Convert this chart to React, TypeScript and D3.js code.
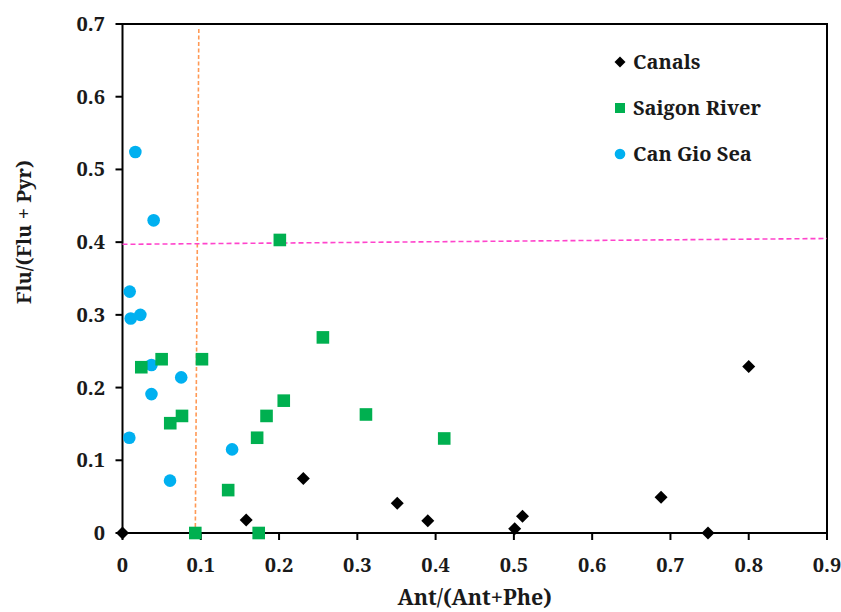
import React from "react";
import * as d3 from "d3";

const xTicks = [0, 0.1, 0.2, 0.3, 0.4, 0.5, 0.6, 0.7, 0.8, 0.9];
const yTicks = [0, 0.1, 0.2, 0.3, 0.4, 0.5, 0.6, 0.7];

const canalsX = [0, 0.158, 0.231, 0.351, 0.39, 0.501, 0.511, 0.688, 0.748, 0.8];
const canalsY = [0, 0.018, 0.075, 0.041, 0.017, 0.006, 0.023, 0.049, 0, 0.229];

const saigonX = [0.201, 0.256, 0.206, 0.311, 0.411, 0.024, 0.05, 0.1015, 0.061, 0.076, 0.184, 0.172, 0.135, 0.093, 0.174];
const saigonY = [0.403, 0.269, 0.182, 0.163, 0.13, 0.228, 0.239, 0.239, 0.151, 0.161, 0.161, 0.131, 0.059, 0, 0];

const canGioX = [0.0164, 0.0398, 0.0092, 0.0105, 0.0228, 0.037, 0.037, 0.075, 0.0087, 0.14, 0.0607];
const canGioY = [0.524, 0.43, 0.332, 0.295, 0.3, 0.231, 0.191, 0.214, 0.131, 0.115, 0.072];

// reference threshold lines (endpoints in data units)
const antLineX = [0.0975, 0.093];
const antLineY = [0.693, 0];
const fluLineX = [0, 0.9];
const fluLineY = [0.397, 0.405];

const seriesNames = ["Canals", "Saigon River", "Can Gio Sea"];
const seriesColors = ["#000000", "#00B050", "#00B0F0"];

const textStyle: React.CSSProperties = {
  fontFamily: '"Noto Serif", "Tinos", "Times New Roman", "Liberation Serif", "DejaVu Serif", "FreeSerif", Georgia, serif',
  fontWeight: 700,
};

export default function App() {
  const W = 841, H = 612;
  const x = d3.scaleLinear().domain([0, 0.9]).range([122.5, 827]);
  const y = d3.scaleLinear().domain([0, 0.7]).range([533, 24]);

  const diamond = (cx: number, cy: number, r: number) =>
    `M${cx},${cy - r}L${cx + r},${cy}L${cx},${cy + r}L${cx - r},${cy}Z`;

  const legendRows = [62, 108, 154];

  return (
    <svg width={W} height={H} style={{ position: "absolute", left: 0, top: 0, background: "#fff" }}>
      <rect x={0} y={0} width={W} height={H} fill="#fff" />
      <rect x={x(0)} y={y(0.7)} width={x(0.9) - x(0)} height={y(0) - y(0.7)} fill="none" stroke="#000" strokeWidth={2} />
      {yTicks.map((t) => (
        <g key={"y" + t}>
          <line x1={x(0) - 7} x2={x(0)} y1={y(t)} y2={y(t)} stroke="#000" strokeWidth={2} />
          <text x={105} y={y(t) + 7} textAnchor="end" style={{ ...textStyle, fontSize: 20 }} fill="#1a1a1a">
            {String(t)}
          </text>
        </g>
      ))}
      {xTicks.map((t) => (
        <g key={"x" + t}>
          <line x1={x(t)} x2={x(t)} y1={y(0)} y2={y(0) + 7} stroke="#000" strokeWidth={2} />
          <text x={x(t)} y={572} textAnchor="middle" style={{ ...textStyle, fontSize: 20 }} fill="#1a1a1a">
            {String(t)}
          </text>
        </g>
      ))}
      <line x1={x(antLineX[0])} y1={y(antLineY[0])} x2={x(antLineX[1])} y2={y(antLineY[1])} stroke="#FF9955" strokeWidth={1.6} strokeDasharray="4 2.5" />
      <line x1={x(fluLineX[0])} y1={y(fluLineY[0])} x2={x(fluLineX[1])} y2={y(fluLineY[1])} stroke="#FF44CC" strokeWidth={1.6} strokeDasharray="5 3" />
      {canGioX.map((v, i) => (
        <circle key={"c" + i} cx={x(v)} cy={y(canGioY[i])} r={6.3} fill={seriesColors[2]} />
      ))}
      {saigonX.map((v, i) => (
        <rect key={"s" + i} x={x(v) - 6.3} y={y(saigonY[i]) - 6.3} width={12.6} height={12.6} fill={seriesColors[1]} />
      ))}
      {canalsX.map((v, i) => (
        <path key={"d" + i} d={diamond(x(v), y(canalsY[i]), 6.5)} fill={seriesColors[0]} />
      ))}
      <path d={diamond(620, legendRows[0], 5.5)} fill={seriesColors[0]} />
      <rect x={615} y={legendRows[1] - 5} width={10} height={10} fill={seriesColors[1]} />
      <circle cx={620} cy={legendRows[2]} r={5.3} fill={seriesColors[2]} />
      {seriesNames.map((n, i) => (
        <text key={n} x={633} y={legendRows[i] + 7} style={{ ...textStyle, fontSize: 20 }} fill="#1a1a1a">
          {n}
        </text>
      ))}
      <text x={(x(0) + x(0.9)) / 2} y={605} textAnchor="middle" style={{ ...textStyle, fontSize: 21.5 }} fill="#1a1a1a">
        Ant/(Ant+Phe)
      </text>
      <text transform={`translate(31,232) rotate(-90)`} textAnchor="middle" style={{ ...textStyle, fontSize: 20 }} fill="#1a1a1a">
        Flu/(Flu + Pyr)
      </text>
    </svg>
  );
}
